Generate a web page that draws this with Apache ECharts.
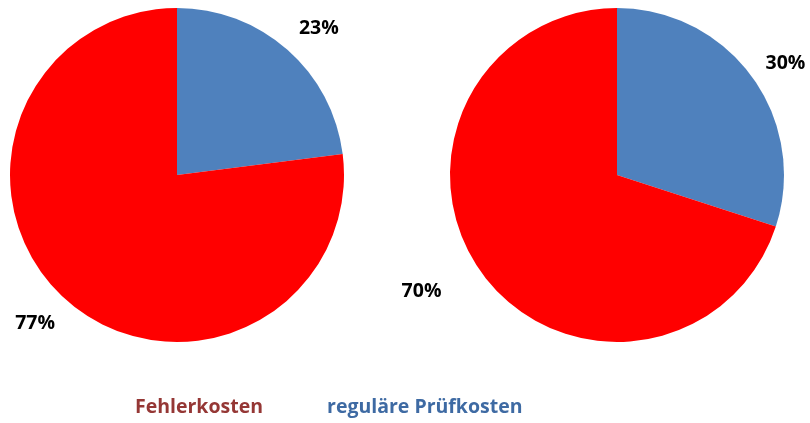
<!DOCTYPE html>
<html><head><meta charset="utf-8">
<script src="https://cdn.jsdelivr.net/npm/echarts@6/dist/echarts.min.js"></script>
<style>html,body{margin:0;padding:0;background:#fff}#c{width:810px;height:423px}</style>
</head><body><div id="c"></div>
<script>
const categories = ['reguläre Prüfkosten', 'Fehlerkosten'];
const pieLeft = [23, 77];
const pieRight = [30, 70];
const sliceColors = ['#4F81BD', '#FF0000'];
const legendColors = {'Fehlerkosten': '#953735', 'reguläre Prüfkosten': '#3E6AA3'};

const FONT = '"Open Sans"';
function mk(vals){ return categories.map((n,i)=>({name:n, value:vals[i], itemStyle:{color:sliceColors[i]}})); }
function pieSeries(center, vals){
  return {type:'pie', center:center, radius:[0,167], startAngle:90, clockwise:true, silent:true,
    label:{show:false}, labelLine:{show:false}, data:mk(vals)};
}
function labelSeries(center, vals, offsets){
  return {type:'pie', center:center, radius:[167,241], startAngle:90, clockwise:true, silent:true,
    itemStyle:{color:'transparent'}, labelLine:{show:false},
    label:{show:true, position:'inside', formatter:'{d}%', color:'#000', fontFamily:FONT, fontWeight:'bold', fontSize:19.5},
    data:categories.map((n,i)=>({name:n, value:vals[i], itemStyle:{color:'transparent'}, label:{offset:offsets[i]}}))};
}
const chart = echarts.init(document.getElementById('c'), null, {renderer:'canvas'});
chart.setOption({
  animation:false,
  legend:{bottom:1, left:125, icon:'none', itemWidth:0, itemGap:59, selectedMode:false,
    data:['Fehlerkosten','reguläre Prüfkosten'].map(n=>({name:n, textStyle:{color:legendColors[n]}})),
    textStyle:{fontFamily:FONT, fontWeight:'bold', fontSize:19.5}},
  series:[
    pieSeries([177,175], pieLeft),
    pieSeries([617,175], pieRight),
    labelSeries([177,175], pieLeft, [[5,9],[-5,-7]]),
    labelSeries([617,175], pieRight, [[1,10],[-28,-5]])
  ]
});
</script></body></html>
